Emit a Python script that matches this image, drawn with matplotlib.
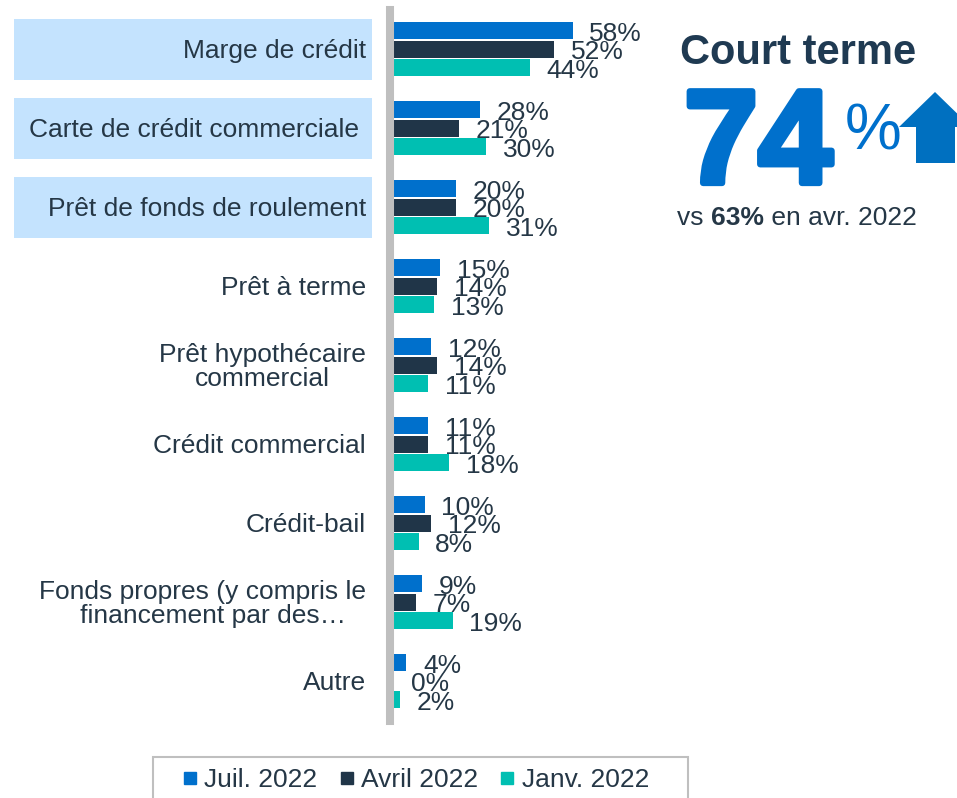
import matplotlib
matplotlib.use("Agg")
import matplotlib.pyplot as plt
import matplotlib.transforms as mtransforms
import matplotlib.patheffects as pe
from matplotlib.lines import Line2D
from matplotlib.patches import Rectangle, Polygon
import numpy as np

plt.rcParams['font.family'] = ['Liberation Sans', 'DejaVu Sans']

categories = ["Marge de crédit", "Carte de crédit commerciale ", "Prêt de fonds de roulement",
              "Prêt à terme", "Prêt hypothécaire\ncommercial", "Crédit commercial",
              "Crédit-bail", "Fonds propres (y compris le\n   financement par des…", "Autre"]
highlighted = [0, 1, 2]
series_names = ["Juil. 2022", "Avril 2022", "Janv. 2022"]
juil = [58, 28, 20, 15, 12, 11, 10, 9, 4]
avril = [52, 21, 20, 14, 14, 11, 12, 7, 0]
janv = [44, 30, 31, 13, 11, 18, 8, 19, 2]
colors = ["#0070CC", "#203548", "#00BFB2"]
text_color = "#253746"
FS = 19

W, H = 957, 798
fig = plt.figure(figsize=(W / 100, H / 100), dpi=100)

# axes: zero at x=394px, 3.08 px per %
ax_left_px, ax_right_px = 394, 700
ax_top_px, ax_bot_px = 9.5, 720.5
ax = fig.add_axes([ax_left_px / W, 1 - ax_bot_px / H,
                   (ax_right_px - ax_left_px) / W, (ax_bot_px - ax_top_px) / H])
ax.set_xlim(0, (ax_right_px - ax_left_px) / 3.08)
ax.set_ylim(len(categories) - 0.5, -0.5)

y = np.arange(len(categories))
bar_h = 17 / 79
offsets = [-18.5 / 79, 0, 18.5 / 79]
for vals, off, c, name in zip([juil, avril, janv], offsets, colors, series_names):
    ax.barh(y + off, vals, height=bar_h, color=c, label=name, zorder=2)
    for yi, v in zip(y + off, vals):
        ax.annotate(f"{v}%", (v, yi), xytext=(12, -2.5), textcoords="offset points",
                    ha="left", va="center", fontsize=FS, color=text_color,
                    annotation_clip=False, zorder=3)

for s in ["top", "right", "bottom"]:
    ax.spines[s].set_visible(False)
ax.spines["left"].set_color("#BFBFBF")
ax.spines["left"].set_linewidth(5.8)
ax.spines["left"].set_position(("outward", 3))
ax.spines["left"].set_zorder(4)
ax.set_xticks([])
ax.set_yticks(y)
ax.set_yticklabels([])
ax.tick_params(axis="y", length=0)

blend = mtransforms.blended_transform_factory(fig.transFigure, ax.transData)
# category labels and highlight boxes
for i, cat in enumerate(categories):
    if i in highlighted:
        ax.add_patch(Rectangle((14 / W, i - 30.5 / 79), (372 - 14) / W, 61 / 79,
                               transform=blend, facecolor="#C4E3FE", edgecolor="none",
                               clip_on=False, zorder=0))
    ax.text(366 / W, i + 2 / 79, cat, transform=blend,
            ha="right", va="center", multialignment="center", fontsize=FS, color=text_color,
            linespacing=1.05)

# legend (frame drawn separately so it can run off the bottom edge like the reference)
handles = [Line2D([], [], marker="s", linestyle="none", markersize=8.6, color=c) for c in colors]
leg = fig.legend(handles, series_names, loc="upper left", bbox_to_anchor=(178 / W, 1 - 763 / H),
                 ncol=3, frameon=False, fontsize=FS, handlelength=0.5, handletextpad=0.3,
                 columnspacing=0.85, borderpad=0.2, borderaxespad=0)
for t in leg.get_texts():
    t.set_color(text_color)
fig.patches.append(Rectangle((153 / W, -0.02), (688 - 153) / W, 0.02 + (798 - 757) / H,
                             transform=fig.transFigure, facecolor="none",
                             edgecolor="#BFBFBF", linewidth=1.5))

# right side callout
fig.text(680 / W, 1 - 64 / H, "Court terme", fontsize=30, fontweight="bold", color="#1F3A52",
         ha="left", va="baseline")
fig.text(684 / W, 1 - 183 / H, "74", fontsize=96, fontweight="bold", color="#0070CC",
         ha="left", va="baseline",
         path_effects=[pe.withStroke(linewidth=4.5, foreground="#0070CC")])
fig.text(845 / W, 1 - 150 / H, "%", fontsize=46, color="#0070CC", ha="left", va="baseline")
arrow = Polygon([(899 / W, 1 - 127 / H), (935 / W, 1 - 92 / H), (971 / W, 1 - 127 / H),
                 (955 / W, 1 - 127 / H), (955 / W, 1 - 163 / H), (916 / W, 1 - 163 / H),
                 (916 / W, 1 - 127 / H)], closed=True, transform=fig.transFigure,
                facecolor="#0070C0", edgecolor="none")
fig.patches.append(arrow)

t1 = fig.text(677 / W, 1 - 225 / H, "vs ", fontsize=FS, color=text_color, ha="left", va="baseline")
fig.canvas.draw()
r = fig.canvas.get_renderer()
bb = t1.get_window_extent(r)
t2 = fig.text(bb.x1 / W, 1 - 225 / H, "63%", fontsize=FS, fontweight="bold", color=text_color,
              ha="left", va="baseline")
bb2 = t2.get_window_extent(r)
fig.text(bb2.x1 / W, 1 - 225 / H, " en avr. 2022", fontsize=FS, color=text_color,
         ha="left", va="baseline")

fig.savefig("out.png", dpi=100)
